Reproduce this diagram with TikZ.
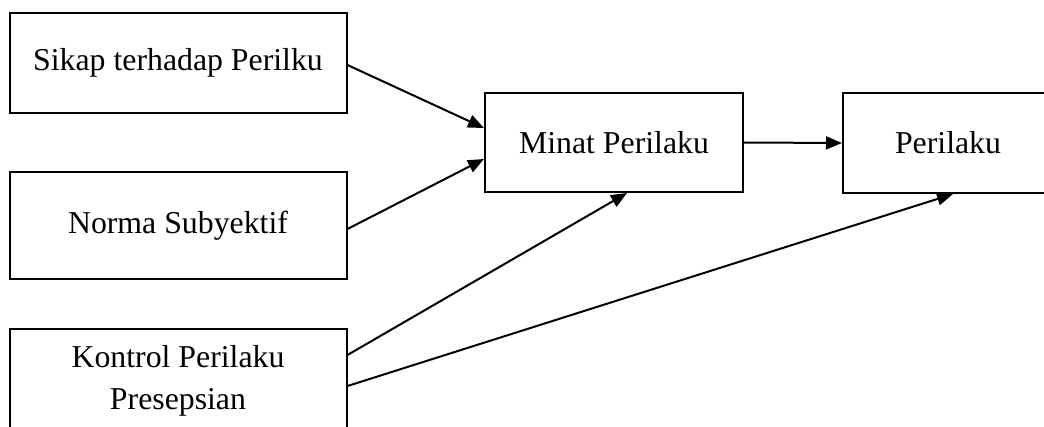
\documentclass[tikz,border=0pt]{standalone}
\usepackage{fontspec}
\setmainfont{Liberation Serif}
\usetikzlibrary{arrows.meta,positioning,calc}

\begin{document}
\begin{tikzpicture}[x=0.5pt, y=-0.5pt, >={Triangle[length=8pt,width=6.5pt]},
  box/.style={draw=black, line width=1pt, fill=white, align=center,
    inner sep=0pt, font=\fontsize{15.9}{21}\selectfont},
  wide/.style={minimum width=168.5pt},
  arr/.style={->, line width=1pt}]
\useasboundingbox (0,0) rectangle (1044,427);
\clip (0,0) rectangle (1044,427);
\fill[white] (0,0) rectangle (1044,427);
% the three inputs on the left
\node[box, wide, minimum height=50pt] (sikap) at (178,63)
  {Sikap terhadap Perilku};
\node[box, wide, minimum height=53.5pt] (norma) at (178,225.5)
  {Norma Subyektif};
\node[box, wide, minimum height=52pt] (kontrol) at (178,381)
  {Kontrol Perilaku\\ Presepsian};
% intention and behaviour
\node[box, minimum width=129pt, minimum height=49.5pt] (minat) at (614,142.5)
  {Minat Perilaku};
\node[box, minimum width=105pt, minimum height=50pt] (perilaku) at (948,143)
  {Perilaku};
\draw[arr] ([yshift=-1pt]sikap.east) -- ([yshift=7.25pt]minat.west);
\draw[arr] ([yshift=-1.75pt]norma.east) -- ([yshift=-8.25pt]minat.west);
\draw[arr] (minat.east) -- (perilaku.west);
\draw[arr] ([yshift=13pt]kontrol.east) -- ([xshift=6.5pt]minat.south);
\draw[arr] ([yshift=-2.5pt]kontrol.east) -- ([xshift=2.5pt]perilaku.south);
\end{tikzpicture}
\end{document}
